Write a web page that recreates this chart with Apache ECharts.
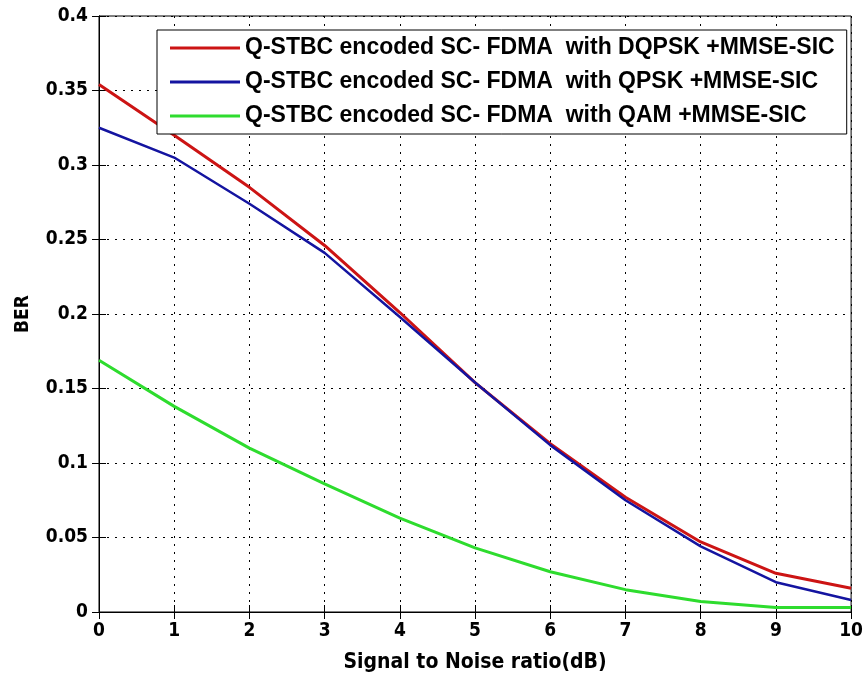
<!DOCTYPE html>
<html>
<head>
<meta charset="utf-8">
<script src="https://cdn.jsdelivr.net/npm/echarts@6/dist/echarts.min.js"></script>
<style>
  html, body { margin: 0; padding: 0; background: #fff; }
  #chart { width: 866px; height: 680px; }
</style>
</head>
<body>
<div id="chart"></div>
<script>
const snr = [0, 1, 2, 3, 4, 5, 6, 7, 8, 9, 10]
const berDqpsk = [0.354, 0.320, 0.285, 0.246, 0.201, 0.154, 0.113, 0.077, 0.047, 0.026, 0.016]
const berQpsk = [0.325, 0.305, 0.274, 0.241, 0.198, 0.154, 0.112, 0.075, 0.044, 0.020, 0.008]
const berQam = [0.169, 0.138, 0.110, 0.086, 0.063, 0.043, 0.027, 0.015, 0.007, 0.003, 0.003]
const seriesNames = [
  'Q-STBC encoded SC- FDMA  with DQPSK +MMSE-SIC',
  'Q-STBC encoded SC- FDMA  with QPSK +MMSE-SIC',
  'Q-STBC encoded SC- FDMA  with QAM +MMSE-SIC'
]
const colors = ['#cc1414', '#1414a0', '#2edc2e']

const tickFont = '"DejaVu Sans Condensed", "Liberation Sans Narrow", "DejaVu Sans", sans-serif'

const chart = echarts.init(document.getElementById('chart'), null, { renderer: 'canvas' })

const pair = (vals) => snr.map((x, i) => [x, vals[i]])

const baseAxisLine = { show: true, lineStyle: { color: '#000', width: 1 } }
const baseTick = { show: true, inside: true, length: 7, lineStyle: { color: '#000' } }
// matlab style dotted grid
const dotted = { show: true, lineStyle: { color: '#000', width: 1, type: [2, 6] } }

const option = {
  backgroundColor: '#fff',
  animation: false,
  grid: {
    left: 99,
    right: 9,
    top: 16,
    bottom: 68,
    show: true,
    borderColor: '#000',
    borderWidth: 1
  },
  legend: {
    orient: 'vertical',
    left: 157,
    top: 30,
    padding: [6, 12, 6, 13],
    itemGap: 10,
    itemWidth: 70,
    itemHeight: 3,
    icon: 'rect',
    backgroundColor: '#fff',
    borderColor: '#000',
    borderWidth: 1,
    textStyle: {
      fontFamily: '"Liberation Sans", Arial, sans-serif',
      fontWeight: 'bold',
      fontSize: 23,
      lineHeight: 24,
      color: '#000'
    },
    data: seriesNames
  },
  xAxis: [
    {
      type: 'value',
      min: 0,
      max: 10,
      interval: 1,
      name: 'Signal to Noise ratio(dB)',
      nameLocation: 'middle',
      nameGap: 40,
      nameTextStyle: { fontFamily: tickFont, fontWeight: 'bold', fontSize: 21, color: '#000' },
      axisLine: baseAxisLine,
      axisTick: baseTick,
      splitLine: dotted,
      axisLabel: { fontFamily: tickFont, fontWeight: 'bold', fontSize: 19, color: '#000', margin: 10 }
    },
    {
      type: 'value',
      position: 'top',
      min: 0,
      max: 10,
      interval: 1,
      axisLine: baseAxisLine,
      axisTick: baseTick,
      splitLine: { show: false },
      axisLabel: { show: false }
    }
  ],
  yAxis: [
    {
      type: 'value',
      min: 0,
      max: 0.4,
      interval: 0.05,
      name: 'BER',
      nameLocation: 'middle',
      nameGap: 66,
      nameTextStyle: { fontFamily: tickFont, fontWeight: 'bold', fontSize: 19, color: '#000' },
      axisLine: baseAxisLine,
      axisTick: baseTick,
      splitLine: dotted,
      axisLabel: { fontFamily: tickFont, fontWeight: 'bold', fontSize: 19, color: '#000', margin: 11 }
    },
    {
      type: 'value',
      position: 'right',
      min: 0,
      max: 0.4,
      interval: 0.05,
      axisLine: baseAxisLine,
      axisTick: baseTick,
      splitLine: { show: false },
      axisLabel: { show: false }
    }
  ],
  series: [
    {
      name: seriesNames[0],
      type: 'line',
      data: pair(berDqpsk),
      symbol: 'none',
      lineStyle: { color: colors[0], width: 3 },
      itemStyle: { color: colors[0] }
    },
    {
      name: seriesNames[1],
      type: 'line',
      data: pair(berQpsk),
      symbol: 'none',
      lineStyle: { color: colors[1], width: 2.5 },
      itemStyle: { color: colors[1] }
    },
    {
      name: seriesNames[2],
      type: 'line',
      data: pair(berQam),
      symbol: 'none',
      lineStyle: { color: colors[2], width: 3 },
      itemStyle: { color: colors[2] }
    }
  ]
}

chart.setOption(option)
</script>
</body>
</html>
